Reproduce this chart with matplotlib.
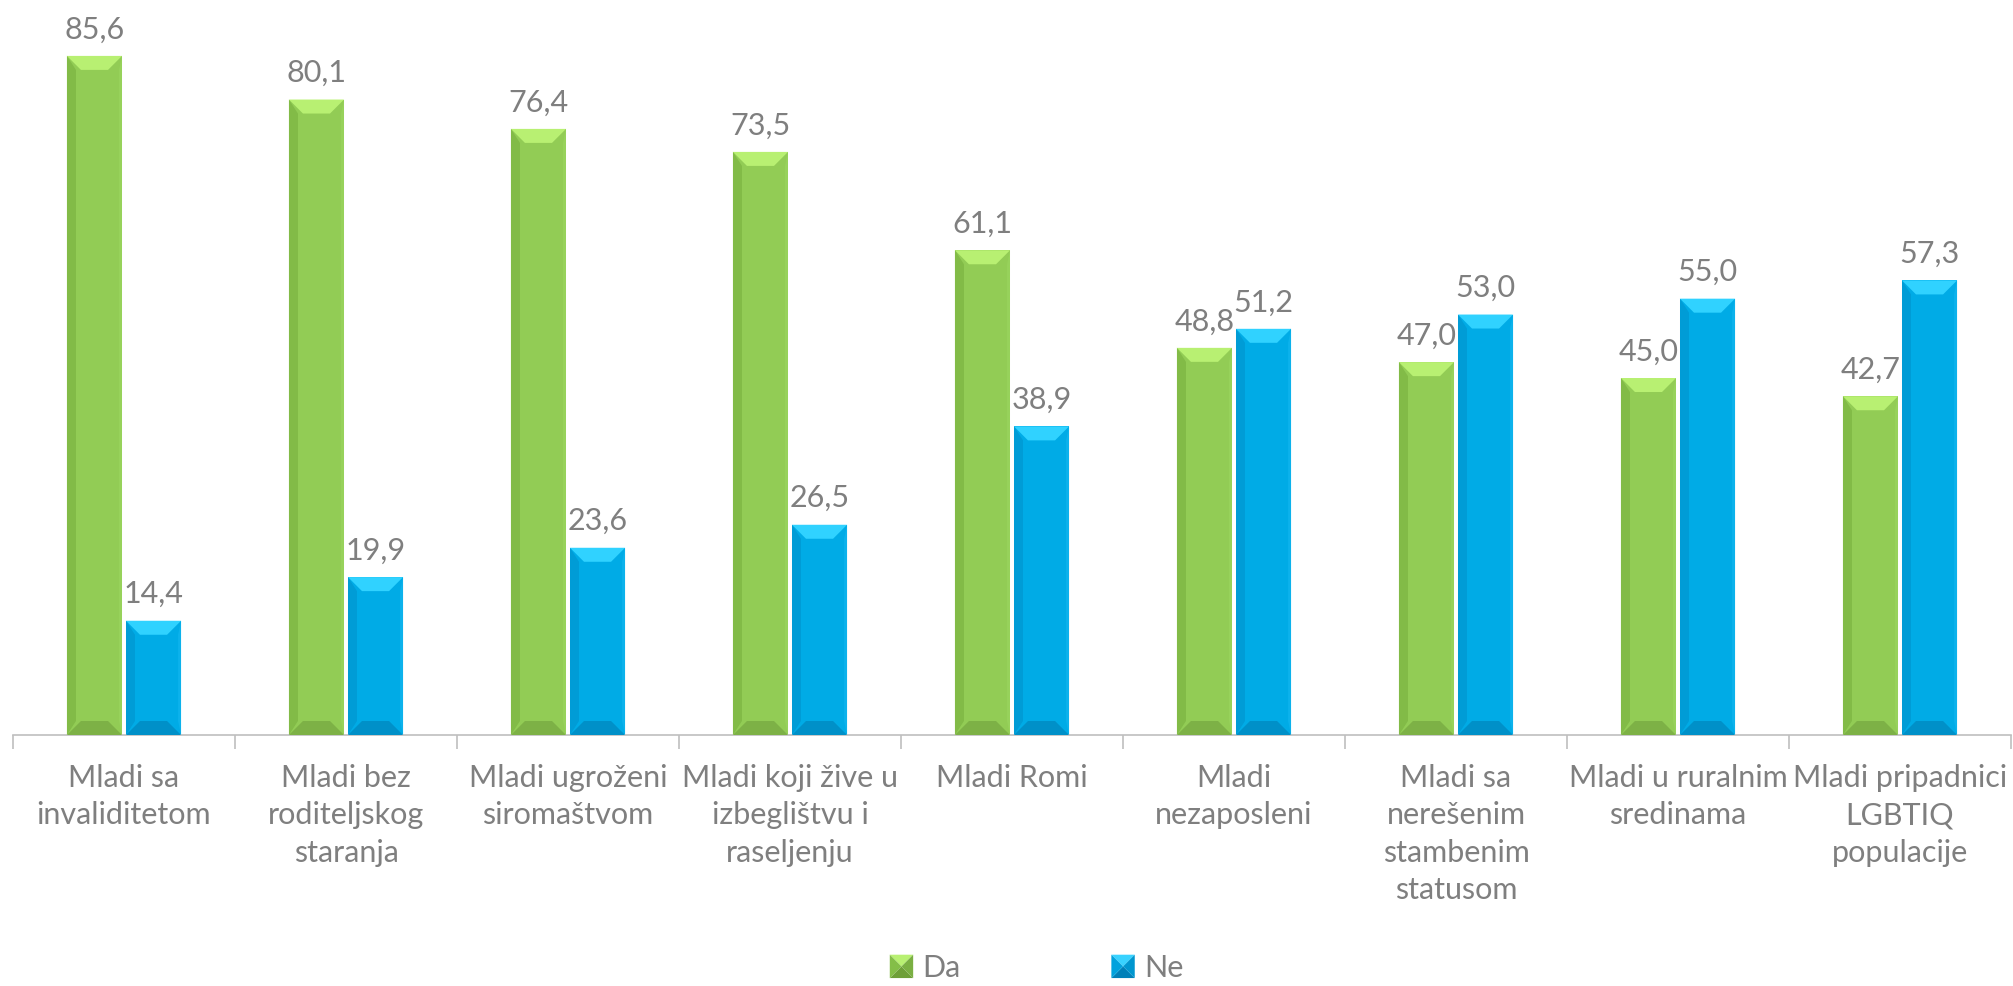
import matplotlib
matplotlib.use("Agg")
import matplotlib.pyplot as plt
from matplotlib.patches import Polygon, Patch
from matplotlib.legend_handler import HandlerBase
import numpy as np

plt.rcParams['font.family'] = ['Lato', 'DejaVu Sans']

categories = [
    "Mladi sa\ninvaliditetom",
    "Mladi bez\nroditeljskog\nstaranja",
    "Mladi ugroženi\nsiromaštvom",
    "Mladi koji žive u\nizbeglištvu i\nraseljenju",
    "Mladi Romi",
    "Mladi\nnezaposleni",
    "Mladi sa\nnerešenim\nstambenim\nstatusom",
    "Mladi u ruralnim\nsredinama",
    "Mladi pripadnici\nLGBTIQ\npopulacije",
]
da_values = [85.6, 80.1, 76.4, 73.5, 61.1, 48.8, 47.0, 45.0, 42.7]
ne_values = [14.4, 19.9, 23.6, 26.5, 38.9, 51.2, 53.0, 55.0, 57.3]
series_names = ["Da", "Ne"]

TXT = "#7F7F7F"
GRID = "#BFBFBF"
shades = {
    "Da": dict(base="#92CC55", top="#B8F072", bottom="#7DB146", left="#82BB47", right="#97D25B",
               ltop="#B8F072", lbottom="#6E9F38", lleft="#84BE48", lright="#7AAF42"),
    "Ne": dict(base="#00ABE6", top="#30D2FF", bottom="#0090C8", left="#009CD6", right="#0CB2EC",
               ltop="#38D2FF", lbottom="#0080B8", lleft="#00A2DD", lright="#0096CF"),
}

W, H = 2013, 986
fig = plt.figure(figsize=(W / 100, H / 100), dpi=100)
ax = fig.add_axes([13 / W, 1 - 735 / H, 1998 / W, 714 / H])
ax.set_xlim(-0.5, len(categories) - 0.5)
ax.set_ylim(0, 90)

x = np.arange(len(categories))
bw = 0.248
off = 0.133
ppu_x = 1998 / 9.0
ppu_y = 714 / 90.0
dx = 14 / ppu_x
dy = 14 / ppu_y
sx = 9 / ppu_x


def bevel_bars(rects, sh):
    for r in rects:
        x0, w, h = r.get_x(), r.get_width(), r.get_height()
        r.set_facecolor(sh["base"])
        r.set_edgecolor("none")
        x1 = x0 + w
        polys = [
            ([(x0, 0), (x0, h), (x0 + sx, h - dy), (x0 + sx, dy)], sh["left"]),
            ([(x1, 0), (x1, h), (x1 - sx / 3, h - dy), (x1 - sx / 3, dy)], sh["right"]),
            ([(x0, h), (x1, h), (x1 - dx, h - dy), (x0 + dx, h - dy)], sh["top"]),
            ([(x0, 0), (x1, 0), (x1 - dx, dy), (x0 + dx, dy)], sh["bottom"]),
        ]
        for pts, c in polys:
            ax.add_patch(Polygon(pts, closed=True, facecolor=c, edgecolor="none", zorder=3))


bars_da = ax.bar(x - off, da_values, bw, zorder=2)
bars_ne = ax.bar(x + off, ne_values, bw, zorder=2)
bevel_bars(bars_da, shades["Da"])
bevel_bars(bars_ne, shades["Ne"])

for rects, vals in ((bars_da, da_values), (bars_ne, ne_values)):
    for r, v in zip(rects, vals):
        ax.annotate(f"{v:.1f}".replace(".", ","), (r.get_x() + r.get_width() / 2, v),
                    xytext=(0, 9), textcoords="offset points", ha="center", va="bottom",
                    fontsize=22, color=TXT)

for s in ("top", "right", "left"):
    ax.spines[s].set_visible(False)
ax.spines["bottom"].set_color(GRID)
ax.spines["bottom"].set_linewidth(1.2)
ax.set_yticks([])

ax.set_xticks(np.arange(-0.5, len(categories) + 0.5, 1.0))
ax.set_xticklabels([])
ax.tick_params(axis="x", which="major", length=10, width=1.2, color=GRID)
ax.set_xticks(x, minor=True)
ax.set_xticklabels(categories, minor=True, fontsize=22, color=TXT, linespacing=1.4)
ax.tick_params(axis="x", which="minor", length=0, pad=21)


class BevelHandler(HandlerBase):
    def create_artists(self, legend, orig_handle, xdescent, ydescent, width, height, fontsize, trans):
        sh = shades[orig_handle.get_label()]
        s = min(width, height)
        x0 = -xdescent + (width - s)
        y0 = -ydescent + (height - s) / 2
        cx, cy = x0 + s / 2, y0 + s / 2
        tri = [
            ([(x0, y0 + s), (x0 + s, y0 + s), (cx, cy)], sh["ltop"]),
            ([(x0, y0), (x0 + s, y0), (cx, cy)], sh["lbottom"]),
            ([(x0, y0), (x0, y0 + s), (cx, cy)], sh["lleft"]),
            ([(x0 + s, y0), (x0 + s, y0 + s), (cx, cy)], sh["lright"]),
        ]
        arts = []
        for pts, c in tri:
            p = Polygon(pts, closed=True, facecolor=c, edgecolor="none", transform=trans)
            arts.append(p)
        return arts


handles = [Patch(label=n) for n in series_names]
leg = fig.legend(handles=handles, loc="center", bbox_to_anchor=(1036 / W, 1 - 968 / H), ncol=2,
                 frameon=False, fontsize=22, handlelength=0.8, handleheight=0.8,
                 handletextpad=0.3, columnspacing=4.9,
                 handler_map={Patch: BevelHandler()})
for t in leg.get_texts():
    t.set_color(TXT)

fig.savefig("out.png", dpi=100)
